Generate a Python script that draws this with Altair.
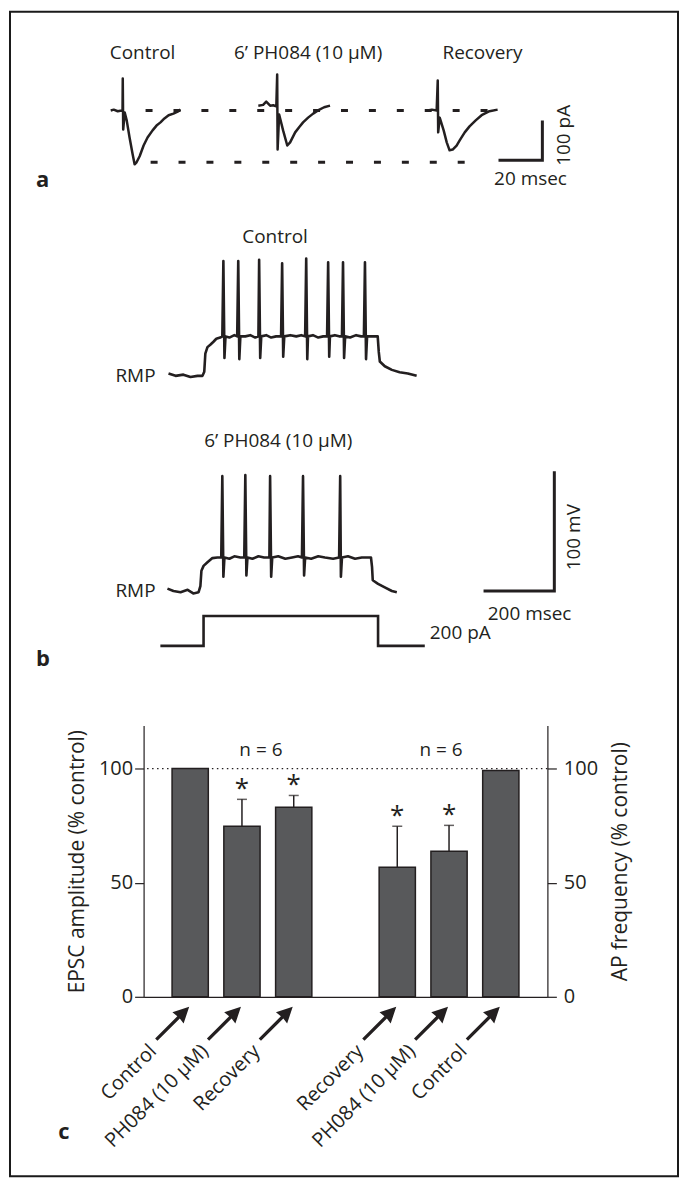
import altair as alt
import pandas as pd

FONT = "Open Sans"
INK = "#231f20"
BAR_FILL = "#58595b"
FS = 19  # general text size

# ---------------- panel a : EPSC sweeps (time in ms, current in pA) ----------------
a_ctrl_t = [0, 1.4, 3.2, 5.0, 5.4, 5.5, 5.7, 6.4, 7.3, 8.6, 10.0, 10.9, 11.8, 13.2, 15.0,
            16.8, 19.1, 20.9, 22.7, 24.5, 26.4, 28.6, 30.5, 31.8]
a_ctrl_i = [0, 2, -2, 0, 0, 80, -48, -5, -25, -68, -110, -135, -130, -115, -88,
            -68, -50, -38, -30, -20, -12, -8, -3, 2]
a_drug_t = [67.3, 69.5, 70.9, 72.7, 74.1, 75.5, 75.9, 76.1, 76.8, 78.6, 80.5, 81.8, 84.1,
            85.9, 87.7, 90.0, 92.3, 94.5, 97.3, 100.0]
a_drug_i = [12, 14, 22, 12, 13, 10, 90, -98, -10, -50, -88, -80, -55,
            -42, -30, -18, -8, 0, 8, 12]
a_rec_t = [144.5, 146.4, 148.6, 149.1, 149.3, 150.0, 151.8, 153.2, 154.5, 155.9, 157.7,
           159.1, 161.4, 163.6, 166.4, 169.1, 172.7, 176.4]
a_rec_i = [0, 2, 0, 75, -55, -18, -50, -80, -100, -98, -88,
           -75, -55, -40, -25, -12, -2, 2]
a_titles = ["Control", "6\u2019 PH084 (10 \u03bcM)", "Recovery"]
a_peak_ref = -130          # control EPSC peak (pA)
a_scale_ms = 20
a_scale_pa = 100

# ---------------- panel b : current-clamp sweeps (time in ms, mV above RMP) ----------------
b_ctrl_t = [0, 20, 42, 62, 82, 96, 101, 104, 110, 118, 127, 135, 146,
            152, 155, 158, 161, 172, 186,
            194, 197, 200, 203, 217, 231, 245,
            254, 256, 259, 262, 276, 290, 304,
            318, 321, 324, 327, 344, 361, 375,
            386, 389, 392, 394, 408, 423, 437,
            448, 451, 454, 456, 470, 482,
            490, 493, 496, 499, 513, 530, 544,
            552, 555, 558, 561, 575, 591,
            594, 597, 611, 631, 653, 676, 701]
b_ctrl_v = [1, -1, 0, -2, -1, -1, 2.5, 17.5, 23, 25, 27.5, 30, 31,
            32, 95, 14, 32, 31, 33,
            32, 95, 13, 32, 32, 33, 31,
            32, 96, 14, 32, 33, 31, 32,
            32, 93, 15, 32, 33, 32, 33,
            32, 97, 13, 32, 33, 31, 32,
            32, 94, 15, 32, 33, 32,
            32, 94, 14, 32, 31, 33, 32,
            32, 94, 13, 32, 32, 32,
            19, 11, 7, 4, 2, 1, -1]
b_drug_t = [-3, 14, 34, 54, 70, 85, 90, 93, 99, 110, 124, 138,
            149, 152, 155, 158, 172, 186, 203,
            214, 217, 220, 223, 237, 254, 270,
            285, 287, 290, 293, 310, 330, 349, 366,
            377, 380, 383, 386, 403, 423, 442, 465,
            482, 485, 487, 490, 507, 527, 546, 572,
            575, 577, 592, 611, 631, 645]
b_drug_v = [2, 0, -1, 1, -2, -1, 4, 17, 21, 24, 27.5, 28,
            28, 96, 12, 28, 27, 29, 28,
            28, 97, 13, 28, 27, 29, 28,
            28, 96, 12, 28, 29, 27, 28, 29,
            28, 96, 13, 28, 27, 29, 28, 27,
            28, 96, 12, 28, 29, 27, 28, 28,
            20, 9, 6, 3, 0, -1]
b_step_t = [-23, 99, 99, 592, 592, 724]
b_step_pa = [0, 0, 200, 200, 0, 0]
b_titles = ["Control", "6\u2019 PH084 (10 \u03bcM)"]
b_scale_ms = 200
b_scale_mv = 100
b_scale_pa = 200

# ---------------- panel c : summary bars (% of control) ----------------
epsc_cond = ["Control", "PH084 (10 \u03bcM)", "Recovery"]
epsc_mean = [100.0, 74.7, 83.0]
epsc_sem = [0.0, 11.8, 5.2]
epsc_sig = [False, True, True]
ap_cond = ["Recovery", "PH084 (10 \u03bcM)", "Control"]
ap_mean = [56.8, 63.8, 99.1]
ap_sem = [17.9, 11.3, 0.0]
ap_sig = [True, True, False]
n_cells = [6, 6]


def line_df(t, v, name):
    return pd.DataFrame({"t": t, "v": v, "i": list(range(len(t))), "sweep": name})


def texts(df, xe, ye, **kw):
    base = dict(font=FONT, color=INK, fontSize=FS, align="center", baseline="middle")
    base.update(kw)
    return alt.Chart(df).mark_text(**base).encode(x=xe, y=ye, text="text:N")


one_row = pd.DataFrame({"k": [0]})

# ======================= panel a =======================
A_W, A_H = 405, 170
A_X = [15.0, 15.0 + A_W / 2.2]
A_Y = [-230.0, 195.0]


def ax(f="t"):
    return alt.X(f"{f}:Q", scale=alt.Scale(domain=A_X, nice=False, zero=False), axis=None)


def ay(f="v"):
    return alt.Y(f"{f}:Q", scale=alt.Scale(domain=A_Y, nice=False, zero=False), axis=None)


frame = alt.Chart(one_row).mark_rect(fillOpacity=0, stroke="#1a1a1a", strokeWidth=2).encode(
    x=alt.value(-134), x2=alt.value(536), y=alt.value(-21), y2=alt.value(1147))

a_tr = pd.concat([line_df(a_ctrl_t, a_ctrl_i, "ctrl"),
                  line_df(a_drug_t, a_drug_i, "drug"),
                  line_df(a_rec_t, a_rec_i, "rec")])
a_trace = alt.Chart(a_tr).mark_line(color=INK, strokeWidth=2.5, strokeJoin="round").encode(
    x=ax(), y=ay(), detail="sweep:N", order="i:Q")

a_guides = pd.DataFrame({"t0": [15.9, 18.2], "t1": [177.3, 165.0], "v": [0, a_peak_ref]})
a_guide = alt.Chart(a_guides).mark_rule(color=INK, strokeWidth=3, strokeDash=[7, 21]).encode(
    x=ax("t0"), x2="t1:Q", y=ay())

sa_t, sa_v = 176.8, -125
a_sb = pd.DataFrame({"t": [sa_t, sa_t + a_scale_ms, sa_t + a_scale_ms],
                     "v": [sa_v, sa_v, sa_v + a_scale_pa], "i": [0, 1, 2]})
a_scale = alt.Chart(a_sb).mark_line(color=INK, strokeWidth=3, strokeJoin="miter").encode(
    x=ax(), y=ay(), order="i:Q")

a_txt = texts(pd.DataFrame({"text": a_titles + [f"{a_scale_ms} msec"],
                            "t": [14.5, 90.0, 169.5, 191.4],
                            "v": [145, 145, 145, -172.5]}), ax(), ay())
a_rot = texts(pd.DataFrame({"text": [f"{a_scale_pa} pA"], "t": [206.8], "v": [-62.5]}),
              ax(), ay(), angle=270)
a_let = texts(pd.DataFrame({"text": ["a"], "t": [-31.0], "v": [-175]}), ax(), ay(),
              fontSize=22, fontWeight="bold")

panel_a = alt.layer(frame, a_guide, a_trace, a_scale, a_txt, a_rot, a_let).properties(
    width=A_W, height=A_H)

# ======================= panel b =======================
B_W = 405
B_X = [-70.4, 1070.4]


def bx(f="t"):
    return alt.X(f"{f}:Q", scale=alt.Scale(domain=B_X, nice=False, zero=False), axis=None)


def by(dom, f="v"):
    return alt.Y(f"{f}:Q", scale=alt.Scale(domain=dom, nice=False, zero=False), axis=None)


B1_H, B1_Y = 220, [-39.17, 144.17]
B2_H, B2_Y = 180, [-8.33, 141.67]
B3_H, B3_Y = 125, [-533.3, 300.0]

b1_line = alt.Chart(line_df(b_ctrl_t, b_ctrl_v, "ctrl")).mark_line(
    color=INK, strokeWidth=2.6, strokeJoin="round").encode(x=bx(), y=by(B1_Y), order="i:Q")
b1_txt = texts(pd.DataFrame({"text": [b_titles[0]], "t": [301], "v": [115]}), bx(), by(B1_Y))
b1_rmp = texts(pd.DataFrame({"text": ["RMP"], "t": [-36.6], "v": [-1]}), bx(), by(B1_Y),
               align="right")
panel_b1 = alt.layer(b1_line, b1_txt, b1_rmp).properties(width=B_W, height=B1_H)

b2_line = alt.Chart(line_df(b_drug_t, b_drug_v, "drug")).mark_line(
    color=INK, strokeWidth=2.6, strokeJoin="round").encode(x=bx(), y=by(B2_Y), order="i:Q")
sb_t = 890
b2_sb = pd.DataFrame({"t": [sb_t, sb_t + b_scale_ms, sb_t + b_scale_ms],
                      "v": [0, 0, b_scale_mv], "i": [0, 1, 2]})
b2_scale = alt.Chart(b2_sb).mark_line(color=INK, strokeWidth=3, strokeJoin="miter").encode(
    x=bx(), y=by(B2_Y), order="i:Q")
b2_txt = texts(pd.DataFrame({"text": [b_titles[1], f"{b_scale_ms} msec"],
                             "t": [310, 1020], "v": [125, -19]}), bx(), by(B2_Y))
b2_rot = texts(pd.DataFrame({"text": [f"{b_scale_mv} mV"], "t": [1146], "v": [45]}),
               bx(), by(B2_Y), angle=270)
b2_rmp = texts(pd.DataFrame({"text": ["RMP"], "t": [-36.6], "v": [0]}), bx(), by(B2_Y),
               align="right")
panel_b2 = alt.layer(b2_line, b2_scale, b2_txt, b2_rot, b2_rmp).properties(
    width=B_W, height=B2_H)

b3_line = alt.Chart(line_df(b_step_t, b_step_pa, "step")).mark_line(
    color=INK, strokeWidth=2.6, strokeJoin="miter").encode(x=bx(), y=by(B3_Y), order="i:Q")
b3_txt = texts(pd.DataFrame({"text": [f"{b_scale_pa} pA"], "t": [738], "v": [87]}),
               bx(), by(B3_Y), align="left")
b3_let = texts(pd.DataFrame({"text": ["b"], "t": [-355], "v": [-87]}), bx(), by(B3_Y),
               fontSize=22, fontWeight="bold")
panel_b3 = alt.layer(b3_line, b3_txt, b3_let).properties(width=B_W, height=B3_H)

# ======================= panel c =======================
C_W, C_H = 405, 272
C_Y = [0, 118.8]
keys = ["e0", "e1", "e2", "gap", "p0", "p1", "p2"]
labels = epsc_cond + [""] + ap_cond
label_expr = " : ".join(f"datum.value == '{k}' ? '{l}'" for k, l in zip(keys, labels)) + " : ''"

XC = alt.X("key:N", scale=alt.Scale(type="band", domain=keys, paddingInner=0.3, paddingOuter=0.55),
           axis=alt.Axis(title=None, ticks=False, labelAngle=315, labelAlign="right",
                         labelBaseline="middle", labelPadding=51, labelOffset=-37,
                         labelExpr=label_expr, labelFont=FONT, labelFontSize=FS + 1,
                         labelColor=INK, labelOverlap=False, labelLimit=300,
                         domainColor=INK, domainWidth=1.3))

yl_axis = alt.Axis(title="EPSC amplitude (% control)", values=[0, 50, 100], grid=False,
                   tickSize=9, tickWidth=1.2, tickColor=INK, domainColor=INK, domainWidth=1.2,
                   labelFont=FONT, labelFontSize=20, labelColor=INK, labelPadding=2,
                   titleFont=FONT, titleFontSize=21, titleFontWeight="normal",
                   titleColor=INK, titlePadding=11)
yr_axis = alt.Axis(orient="right", title="AP frequency (% control)", values=[0, 50, 100],
                   grid=False, tickSize=9, tickWidth=1.2, tickColor=INK, domainColor=INK,
                   domainWidth=1.2, labelFont=FONT, labelFontSize=20, labelColor=INK,
                   labelPadding=7, titleFont=FONT, titleFontSize=21, titleFontWeight="normal",
                   titleColor=INK, titlePadding=12, titleAngle=270, titleBaseline="top")


def yl(f):
    return alt.Y(f"{f}:Q", scale=alt.Scale(domain=C_Y, nice=False), axis=yl_axis)


c_df = pd.DataFrame({
    "key": ["e0", "e1", "e2", "p0", "p1", "p2"],
    "mean": epsc_mean + ap_mean,
    "sem": epsc_sem + ap_sem,
    "sig": epsc_sig + ap_sig,
    "group": ["EPSC"] * 3 + ["AP"] * 3,
})
c_df["top"] = c_df["mean"] + c_df["sem"]
c_df["zero"] = 0.0

ref = alt.Chart(pd.DataFrame({"ref": [100]})).mark_rule(
    color=INK, strokeWidth=1.3, strokeDash=[1.5, 3.5]).encode(y=yl("ref"))
epsc_bars = alt.Chart(c_df[c_df.group == "EPSC"]).mark_bar(
    fill=BAR_FILL, stroke=INK, strokeWidth=1.5).encode(x=XC, y=yl("mean"))
err_df = c_df[c_df["sem"] > 0]
err = alt.Chart(err_df).mark_rule(color=INK, strokeWidth=1.5).encode(
    x=XC, y=yl("mean"), y2="top:Q")
caps = alt.Chart(err_df).mark_tick(color=INK, size=10, thickness=1.5).encode(x=XC, y=yl("top"))
stars = alt.Chart(c_df[c_df["sig"]]).mark_text(
    text="*", font=FONT, fontSize=26, color=INK, baseline="alphabetic", dy=-2).encode(
    x=XC, y=yl("top"))
n_left = alt.Chart(pd.DataFrame({"key": ["e1"], "text": [f"n = {n_cells[0]}"], "ny": [108.3]})
                   ).mark_text(font=FONT, fontSize=FS, color=INK, dx=19).encode(
    x=XC, y=yl("ny"), text="text:N")
n_right = alt.Chart(pd.DataFrame({"key": ["p1"], "text": [f"n = {n_cells[1]}"], "ny": [108.3]})
                    ).mark_text(font=FONT, fontSize=FS, color=INK, dx=-8).encode(
    x=XC, y=yl("ny"), text="text:N")
ARROW = ("M1,-1L0.66,0.02L0.43,-0.28L-0.93,1.07L-1.07,0.93"
         "L0.28,-0.43L-0.02,-0.66Z")
arrows = alt.Chart(c_df).mark_point(shape=ARROW, size=1089, filled=True, color=INK,
                                    opacity=1, xOffset=-17.5, yOffset=26.5).encode(
    x=XC, y=yl("zero"))
c_let = alt.Chart(pd.DataFrame({"text": ["c"]})).mark_text(
    font=FONT, fontSize=22, fontWeight="bold", color=INK).encode(
    x=alt.value(-80), y=alt.value(408), text="text:N")

left = alt.layer(ref, epsc_bars, err, caps, stars, n_left, n_right, arrows, c_let)
right = alt.Chart(c_df[c_df.group == "AP"]).mark_bar(
    fill=BAR_FILL, stroke=INK, strokeWidth=1.5).encode(
    x=XC, y=alt.Y("mean:Q", scale=alt.Scale(domain=C_Y, nice=False), axis=yr_axis))

panel_c = alt.layer(left, right).resolve_scale(y="independent").properties(
    width=C_W, height=C_H)

chart = alt.vconcat(panel_a, panel_b1, panel_b2, panel_b3, panel_c,
                    spacing=0, bounds="flush", padding=0, background="white"
                    ).configure_view(stroke="transparent")

chart.save("out.html", embed_options={"renderer": "svg", "actions": False})
